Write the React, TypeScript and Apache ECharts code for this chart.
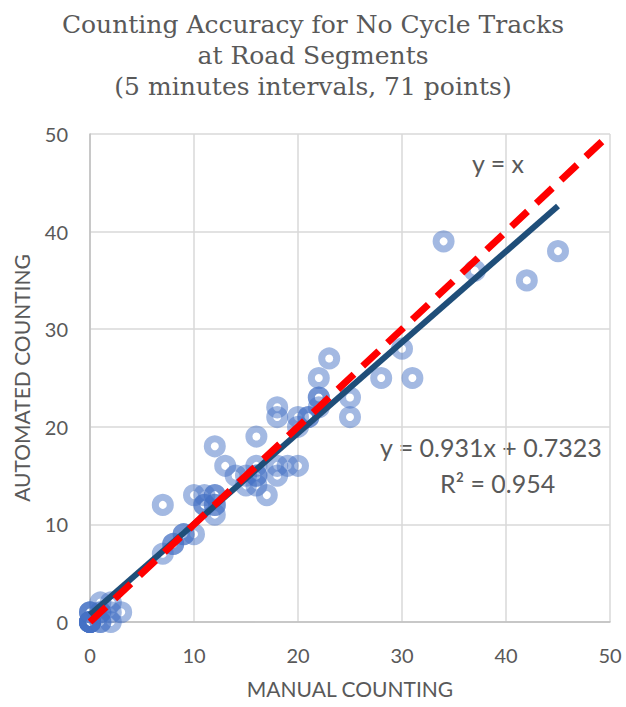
import React, { useEffect, useRef } from "react";
import * as echarts from "echarts";

// Manual vs automated counts, 5-minute intervals (71 observations)
const manual = [
  0, 0, 0, 0, 0, 0, 0, 0, 0, 0, 0, 1, 1, 1, 1, 1, 2, 2, 2, 3,
  7, 7, 8, 9, 10, 10, 11, 11, 11, 12, 12, 12, 12, 12, 12, 13, 14, 15, 16, 16,
  16, 16, 17, 18, 18, 18, 18, 19, 20, 20, 20, 21, 21, 22, 22, 22, 22, 23, 25, 25,
  28, 30, 31, 34, 37, 42, 45, 15, 16, 9, 8,
];
const automated = [
  0, 0, 0, 0, 0, 0, 0, 0, 1, 1, 1, 0, 0, 1, 1, 2, 0, 1, 2, 1,
  7, 12, 8, 9, 9, 13, 12, 12, 13, 11, 12, 12, 13, 13, 18, 16, 15, 14, 14, 15,
  15, 19, 13, 15, 16, 21, 22, 16, 16, 20, 21, 21, 21, 22, 23, 23, 25, 27, 21, 23,
  25, 28, 25, 39, 36, 35, 38, 15, 16, 9, 8,
];

// Linear fit reported for the data set
const slope = 0.931;
const intercept = 0.7323;
const rSquared = 0.954;
const fitRange = [0, 45];

// Reference line y = x
const identityRange = [0, 50];

const xTicks = { min: 0, max: 50, interval: 10 };
const yTicks = { min: 0, max: 50, interval: 10 };

const titleLines = [
  "Counting Accuracy for No Cycle Tracks",
  "at Road Segments",
  "(5 minutes intervals, 71 points)",
];

export default function App() {
  const ref = useRef<HTMLDivElement>(null);

  useEffect(() => {
    if (!ref.current) return;
    const chart = echarts.init(ref.current, null, { renderer: "svg" });
    const points = manual.map((m, i) => [m, automated[i]]);
    const fitLine = fitRange.map((x) => [x, slope * x + intercept]);
    const idLine = identityRange.map((x) => [x, x]);
    const sans = "Lato, 'Open Sans', sans-serif";
    const gray = "#595959";

    chart.setOption({
      animation: false,
      backgroundColor: "#ffffff",
      title: {
        text: titleLines.join("\n"),
        left: "center",
        top: 4,
        textStyle: {
          fontFamily: "'DejaVu Serif', serif",
          fontSize: 25,
          fontWeight: "normal",
          color: gray,
          lineHeight: 31,
        },
      },
      grid: { left: 90, right: 16, top: 134, bottom: 85 },
      xAxis: {
        type: "value",
        min: xTicks.min,
        max: xTicks.max,
        interval: xTicks.interval,
        name: "MANUAL COUNTING",
        nameLocation: "middle",
        nameGap: 56,
        nameTextStyle: { fontFamily: sans, fontSize: 21, color: gray },
        axisLine: { show: true, lineStyle: { color: "#BFBFBF", width: 1.5 } },
        axisTick: { show: false },
        axisLabel: { fontFamily: sans, fontSize: 20, color: gray, margin: 23 },
        splitLine: { lineStyle: { color: "#D9D9D9", width: 1.5 } },
      },
      yAxis: {
        type: "value",
        min: yTicks.min,
        max: yTicks.max,
        interval: yTicks.interval,
        name: "AUTOMATED COUNTING",
        nameLocation: "middle",
        nameGap: 58,
        nameTextStyle: { fontFamily: sans, fontSize: 21, color: gray },
        axisLine: { show: true, lineStyle: { color: "#BFBFBF", width: 1.5 } },
        axisTick: { show: false },
        axisLabel: { fontFamily: sans, fontSize: 20, color: gray, margin: 22 },
        splitLine: { lineStyle: { color: "#D9D9D9", width: 1.5 } },
      },
      series: [
        {
          type: "scatter",
          data: points,
          symbol: "circle",
          symbolSize: 15,
          itemStyle: {
            color: "rgba(255,255,255,0)",
            borderColor: "rgba(68,114,196,0.62)",
            borderWidth: 7,
          },
          z: 2,
        },
        {
          type: "line",
          data: fitLine,
          symbol: "none",
          lineStyle: { color: "#1F4E79", width: 6, cap: "butt" },
          z: 3,
        },
        {
          type: "line",
          data: idLine,
          symbol: "none",
          lineStyle: { color: "#FF0000", width: 7, type: [22, 12], cap: "butt" },
          z: 4,
        },
      ],
      graphic: [
        {
          type: "text",
          left: 472,
          top: 150,
          style: { text: "y = x", fontFamily: sans, fontSize: 25, fill: gray },
        },
        {
          type: "text",
          left: 380,
          top: 434,
          style: {
            text: `y = ${slope}x + ${intercept}`,
            fontFamily: sans,
            fontSize: 25,
            fill: gray,
          },
        },
        {
          type: "text",
          left: 440,
          top: 470,
          style: {
            text: `R² = ${rSquared}`,
            fontFamily: sans,
            fontSize: 25,
            fill: gray,
          },
        },
      ],
    });
    return () => chart.dispose();
  }, []);

  return (
    <div
      ref={ref}
      style={{ position: "absolute", left: 0, top: 0, width: 626, height: 707 }}
    />
  );
}
